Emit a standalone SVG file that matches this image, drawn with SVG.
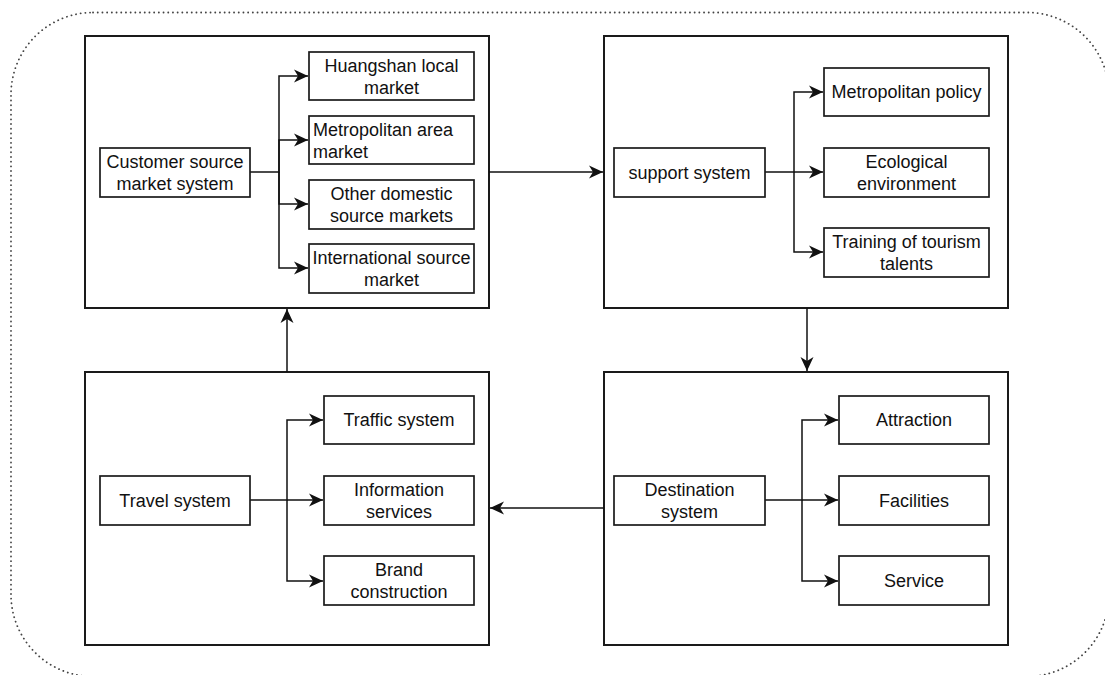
<svg xmlns="http://www.w3.org/2000/svg" width="1105" height="675" viewBox="0 0 1105 675">
<style>
.frame{fill:none;stroke:#444;stroke-width:1.8;stroke-dasharray:0.1 4.6;stroke-linecap:round}
.outer{fill:#fff;stroke:#1a1a1a;stroke-width:2}
.box{fill:#fff;stroke:#1a1a1a;stroke-width:1.7}
.con{fill:none;stroke:#111;stroke-width:1.5}
text{font-family:"Liberation Sans",Arial,sans-serif;font-size:18px;fill:#111}
.c{text-anchor:middle}
</style>
<defs>
<marker id="arr" markerWidth="15" markerHeight="14" refX="14" refY="7" orient="auto" markerUnits="userSpaceOnUse">
<path d="M0,0.5 L14,7 L0,13.5 L4,7 z" fill="#111"/>
</marker>
</defs>
<rect class="frame" x="11" y="12.5" width="1098" height="664" rx="82" ry="82"/>

<g id="panel-source">
<rect class="outer" x="85" y="36" width="404" height="272"/>
</g>
<g id="panel-support">
<rect class="outer" x="604" y="36" width="404" height="272"/>
</g>
<g id="panel-travel">
<rect class="outer" x="85" y="372" width="404" height="273"/>
</g>
<g id="panel-destination">
<rect class="outer" x="604" y="372" width="404" height="273"/>
</g>

<g id="connectors">
<path class="con" d="M250,172 H279 V76 H308" marker-end="url(#arr)"/>
<path class="con" d="M279,172 V140 H308" marker-end="url(#arr)"/>
<path class="con" d="M279,172 V204 H308" marker-end="url(#arr)"/>
<path class="con" d="M279,172 V268 H308" marker-end="url(#arr)"/>
<path class="con" d="M489,172 H603" marker-end="url(#arr)"/>
<path class="con" d="M765,172 H794 V92 H823" marker-end="url(#arr)"/>
<path class="con" d="M794,172 H823" marker-end="url(#arr)"/>
<path class="con" d="M794,172 V252 H823" marker-end="url(#arr)"/>
<path class="con" d="M807,308 V371" marker-end="url(#arr)"/>
<path class="con" d="M765,500 H802 V420 H838" marker-end="url(#arr)"/>
<path class="con" d="M802,500 H838" marker-end="url(#arr)"/>
<path class="con" d="M802,500 V581 H838" marker-end="url(#arr)"/>
<path class="con" d="M604,508 H490" marker-end="url(#arr)"/>
<path class="con" d="M250,500 H287 V420 H323" marker-end="url(#arr)"/>
<path class="con" d="M287,500 H323" marker-end="url(#arr)"/>
<path class="con" d="M287,500 V581 H323" marker-end="url(#arr)"/>
<path class="con" d="M287,372 V309" marker-end="url(#arr)"/>
</g>

<g id="customer-source">
<rect class="box" x="100" y="148" width="150" height="49"/>
<text class="c" x="175" y="168.3">Customer source</text>
<text class="c" x="175" y="190">market system</text>
</g>
<g id="huangshan">
<rect class="box" x="309" y="52" width="165" height="48"/>
<text class="c" x="391.5" y="71.8">Huangshan local</text>
<text class="c" x="391.5" y="93.5">market</text>
</g>
<g id="metro-market">
<rect class="box" x="309" y="116" width="165" height="48"/>
<text x="313" y="135.8">Metropolitan area</text>
<text x="313" y="157.5">market</text>
</g>
<g id="other-domestic">
<rect class="box" x="309" y="180" width="165" height="49"/>
<text class="c" x="391.5" y="200.3">Other domestic</text>
<text class="c" x="391.5" y="222">source markets</text>
</g>
<g id="international">
<rect class="box" x="309" y="244" width="165" height="49"/>
<text class="c" x="391.5" y="264.3">International source</text>
<text class="c" x="391.5" y="286">market</text>
</g>

<g id="support-system">
<rect class="box" x="614" y="148" width="151" height="49"/>
<text class="c" x="689.5" y="178.8">support system</text>
</g>
<g id="metro-policy">
<rect class="box" x="824" y="68" width="165" height="48"/>
<text class="c" x="906.5" y="98.3">Metropolitan policy</text>
</g>
<g id="ecological">
<rect class="box" x="824" y="148" width="165" height="49"/>
<text class="c" x="906.5" y="168.3">Ecological</text>
<text class="c" x="906.5" y="190">environment</text>
</g>
<g id="training">
<rect class="box" x="824" y="228" width="165" height="49"/>
<text class="c" x="906.5" y="248.3">Training of tourism</text>
<text class="c" x="906.5" y="270">talents</text>
</g>

<g id="travel-system">
<rect class="box" x="100" y="476" width="150" height="49"/>
<text class="c" x="175" y="506.8">Travel system</text>
</g>
<g id="traffic">
<rect class="box" x="324" y="396" width="150" height="48"/>
<text class="c" x="399" y="426.3">Traffic system</text>
</g>
<g id="information">
<rect class="box" x="324" y="476" width="150" height="49"/>
<text class="c" x="399" y="496.3">Information</text>
<text class="c" x="399" y="518">services</text>
</g>
<g id="brand">
<rect class="box" x="324" y="556" width="150" height="49"/>
<text class="c" x="399" y="576.3">Brand</text>
<text class="c" x="399" y="598">construction</text>
</g>

<g id="destination-system">
<rect class="box" x="614" y="476" width="151" height="49"/>
<text class="c" x="689.5" y="496.3">Destination</text>
<text class="c" x="689.5" y="518">system</text>
</g>
<g id="attraction">
<rect class="box" x="839" y="396" width="150" height="48"/>
<text class="c" x="914" y="426.3">Attraction</text>
</g>
<g id="facilities">
<rect class="box" x="839" y="476" width="150" height="49"/>
<text class="c" x="914" y="506.8">Facilities</text>
</g>
<g id="service">
<rect class="box" x="839" y="556" width="150" height="49"/>
<text class="c" x="914" y="586.8">Service</text>
</g>
</svg>
